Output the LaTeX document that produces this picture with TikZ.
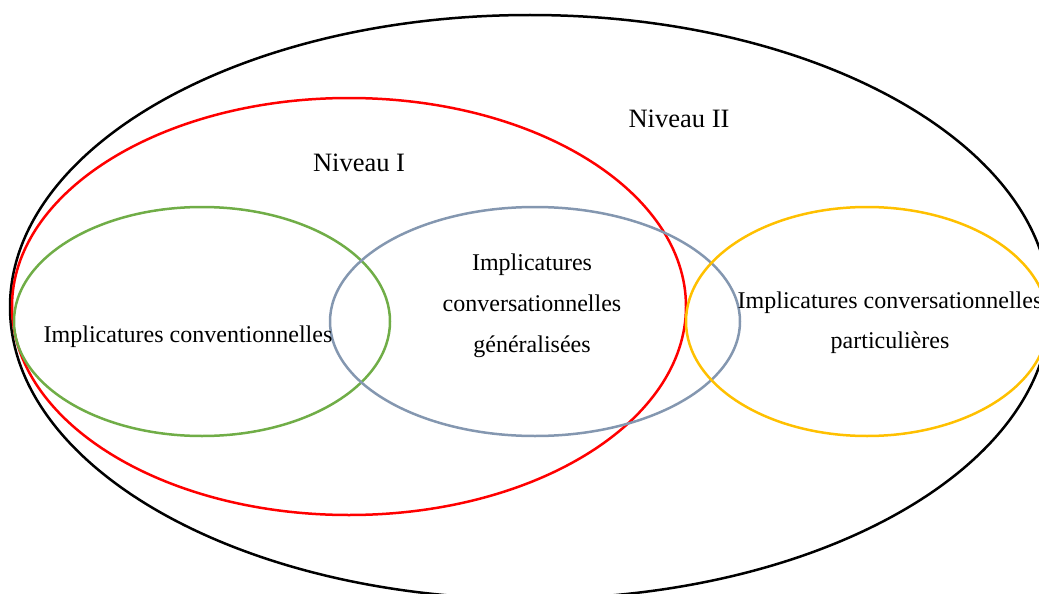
\documentclass[tikz,border=0pt]{standalone}
\usepackage{fontspec}
\setmainfont{Liberation Serif}
\definecolor{cgreen}{HTML}{70AD47}
\definecolor{cgray}{HTML}{8497B0}
\definecolor{cyellow}{HTML}{FFC000}
\tikzset{
  ring/.style={line width=2.5pt},
  lbl/.style={anchor=base, inner sep=0pt, font=\fontsize{24}{24}\selectfont},
  lvl/.style={anchor=base, inner sep=0pt, font=\fontsize{26.5}{26.5}\selectfont}
}
\begin{document}
\begin{tikzpicture}[x=1pt,y=-1pt]
\useasboundingbox (0,0) rectangle (1039,594);
\draw[ring, black] (530,307) ellipse [x radius=520, y radius=292];
\draw[ring, red] (349,306.5) ellipse [x radius=337, y radius=208.5];
\draw[ring, cgreen] (202,321.5) ellipse [x radius=188, y radius=114.5];
\draw[ring, cgray] (535,321.5) ellipse [x radius=205, y radius=114.5];
\draw[ring, cyellow] (867,321.5) ellipse [x radius=181, y radius=114.5];
\node[lvl] (n2) at (679,127) {Niveau II};
\node[lvl] (n1) at (359,171) {Niveau I};
\node[lbl] (conv) at (188,342) {Implicatures conventionnelles};
\node[lbl] (g1) at (532,270) {Implicatures};
\node[lbl] (g2) at (532,311) {conversationnelles};
\node[lbl] (g3) at (532,352) {généralisées};
\node[lbl] (p1) at (890,308) {Implicatures conversationnelles};
\node[lbl] (p2) at (890,348) {particulières};
\end{tikzpicture}
\end{document}
